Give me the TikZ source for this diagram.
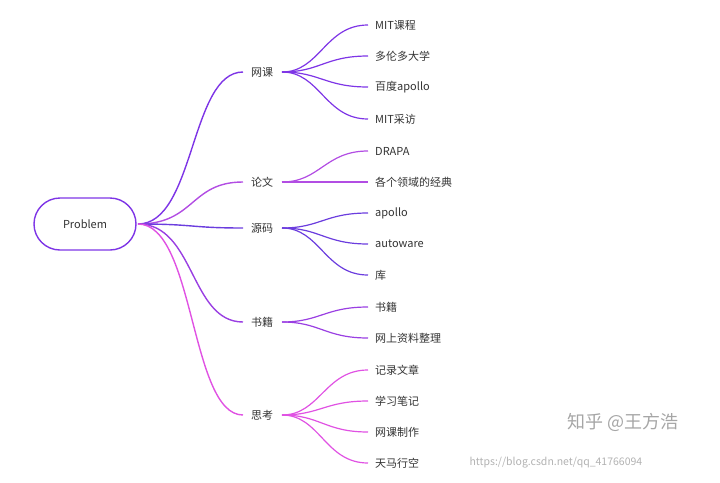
\documentclass[tikz,border=0pt]{standalone}
\usepackage{fontspec}
\setmainfont{Noto Sans CJK SC}
\begin{document}
\begin{tikzpicture}[x=1pt,y=-1pt,
  lbl/.style={font=\fontsize{11}{13}\selectfont, text=black!80, inner sep=0pt},
  br/.style={line width=1.4pt},
  lf/.style={line width=1.2pt}]
\definecolor{cA}{HTML}{7E35E6}
\definecolor{cB}{HTML}{B24DE3}
\definecolor{cC}{HTML}{6B3DDE}
\definecolor{cD}{HTML}{9A3FE2}
\definecolor{cE}{HTML}{E052E3}
\useasboundingbox (0,0) rectangle (720,482);
\node[draw=cA, line width=1.4pt, rounded corners=26pt, minimum width=102pt, minimum height=52pt, font=\fontsize{11}{13}\selectfont, text=black!80] (root) at (85,224) {Problem};
\coordinate (r) at (138,224);
\foreach \n/\t/\y/\c in {b1/网课/72/cA, b2/论文/182/cB, b3/源码/228/cC, b4/书籍/322/cD, b5/思考/415/cE}{
  \node[lbl] (\n) at (262,\y) {\t};
  \coordinate (\n l) at (243,\y);
  \coordinate (\n r) at (282,\y);
  \draw[br,\c] (r) .. controls (195,224) and (190,\y) .. (\n l);
}
\foreach \b/\n/\t/\y/\c in {b1/l1/MIT课程/25/cA, b1/l2/多伦多大学/56/cA, b1/l3/百度apollo/87/cA, b1/l4/MIT采访/119/cA,
  b2/l5/DRAPA/151/cB, b2/l6/各个领域的经典/182/cB,
  b3/l7/apollo/213/cC, b3/l8/autoware/244/cC, b3/l9/库/275/cC,
  b4/l10/书籍/307/cD, b4/l11/网上资料整理/338/cD,
  b5/l12/记录文章/370/cE, b5/l13/学习笔记/401/cE, b5/l14/网课制作/432/cE, b5/l15/天马行空/463/cE}{
  \node[lbl, anchor=west] (\n) at (375,\y) {\t};
  \coordinate (\n e) at (368,\y);
  \draw[lf,\c] (\b r) .. controls (320,0|-\b r) and (325,\y) .. (\n e);
}
\node[font=\fontsize{18}{20}\selectfont, text=black!35, anchor=west] (wm) at (564,422) {知乎 @王方浩};
\node[font=\fontsize{10.5}{12}\selectfont, text=black!30, anchor=west] (url) at (466,463) {https://blog.csdn.net/qq\_41766094};
\end{tikzpicture}
\end{document}
